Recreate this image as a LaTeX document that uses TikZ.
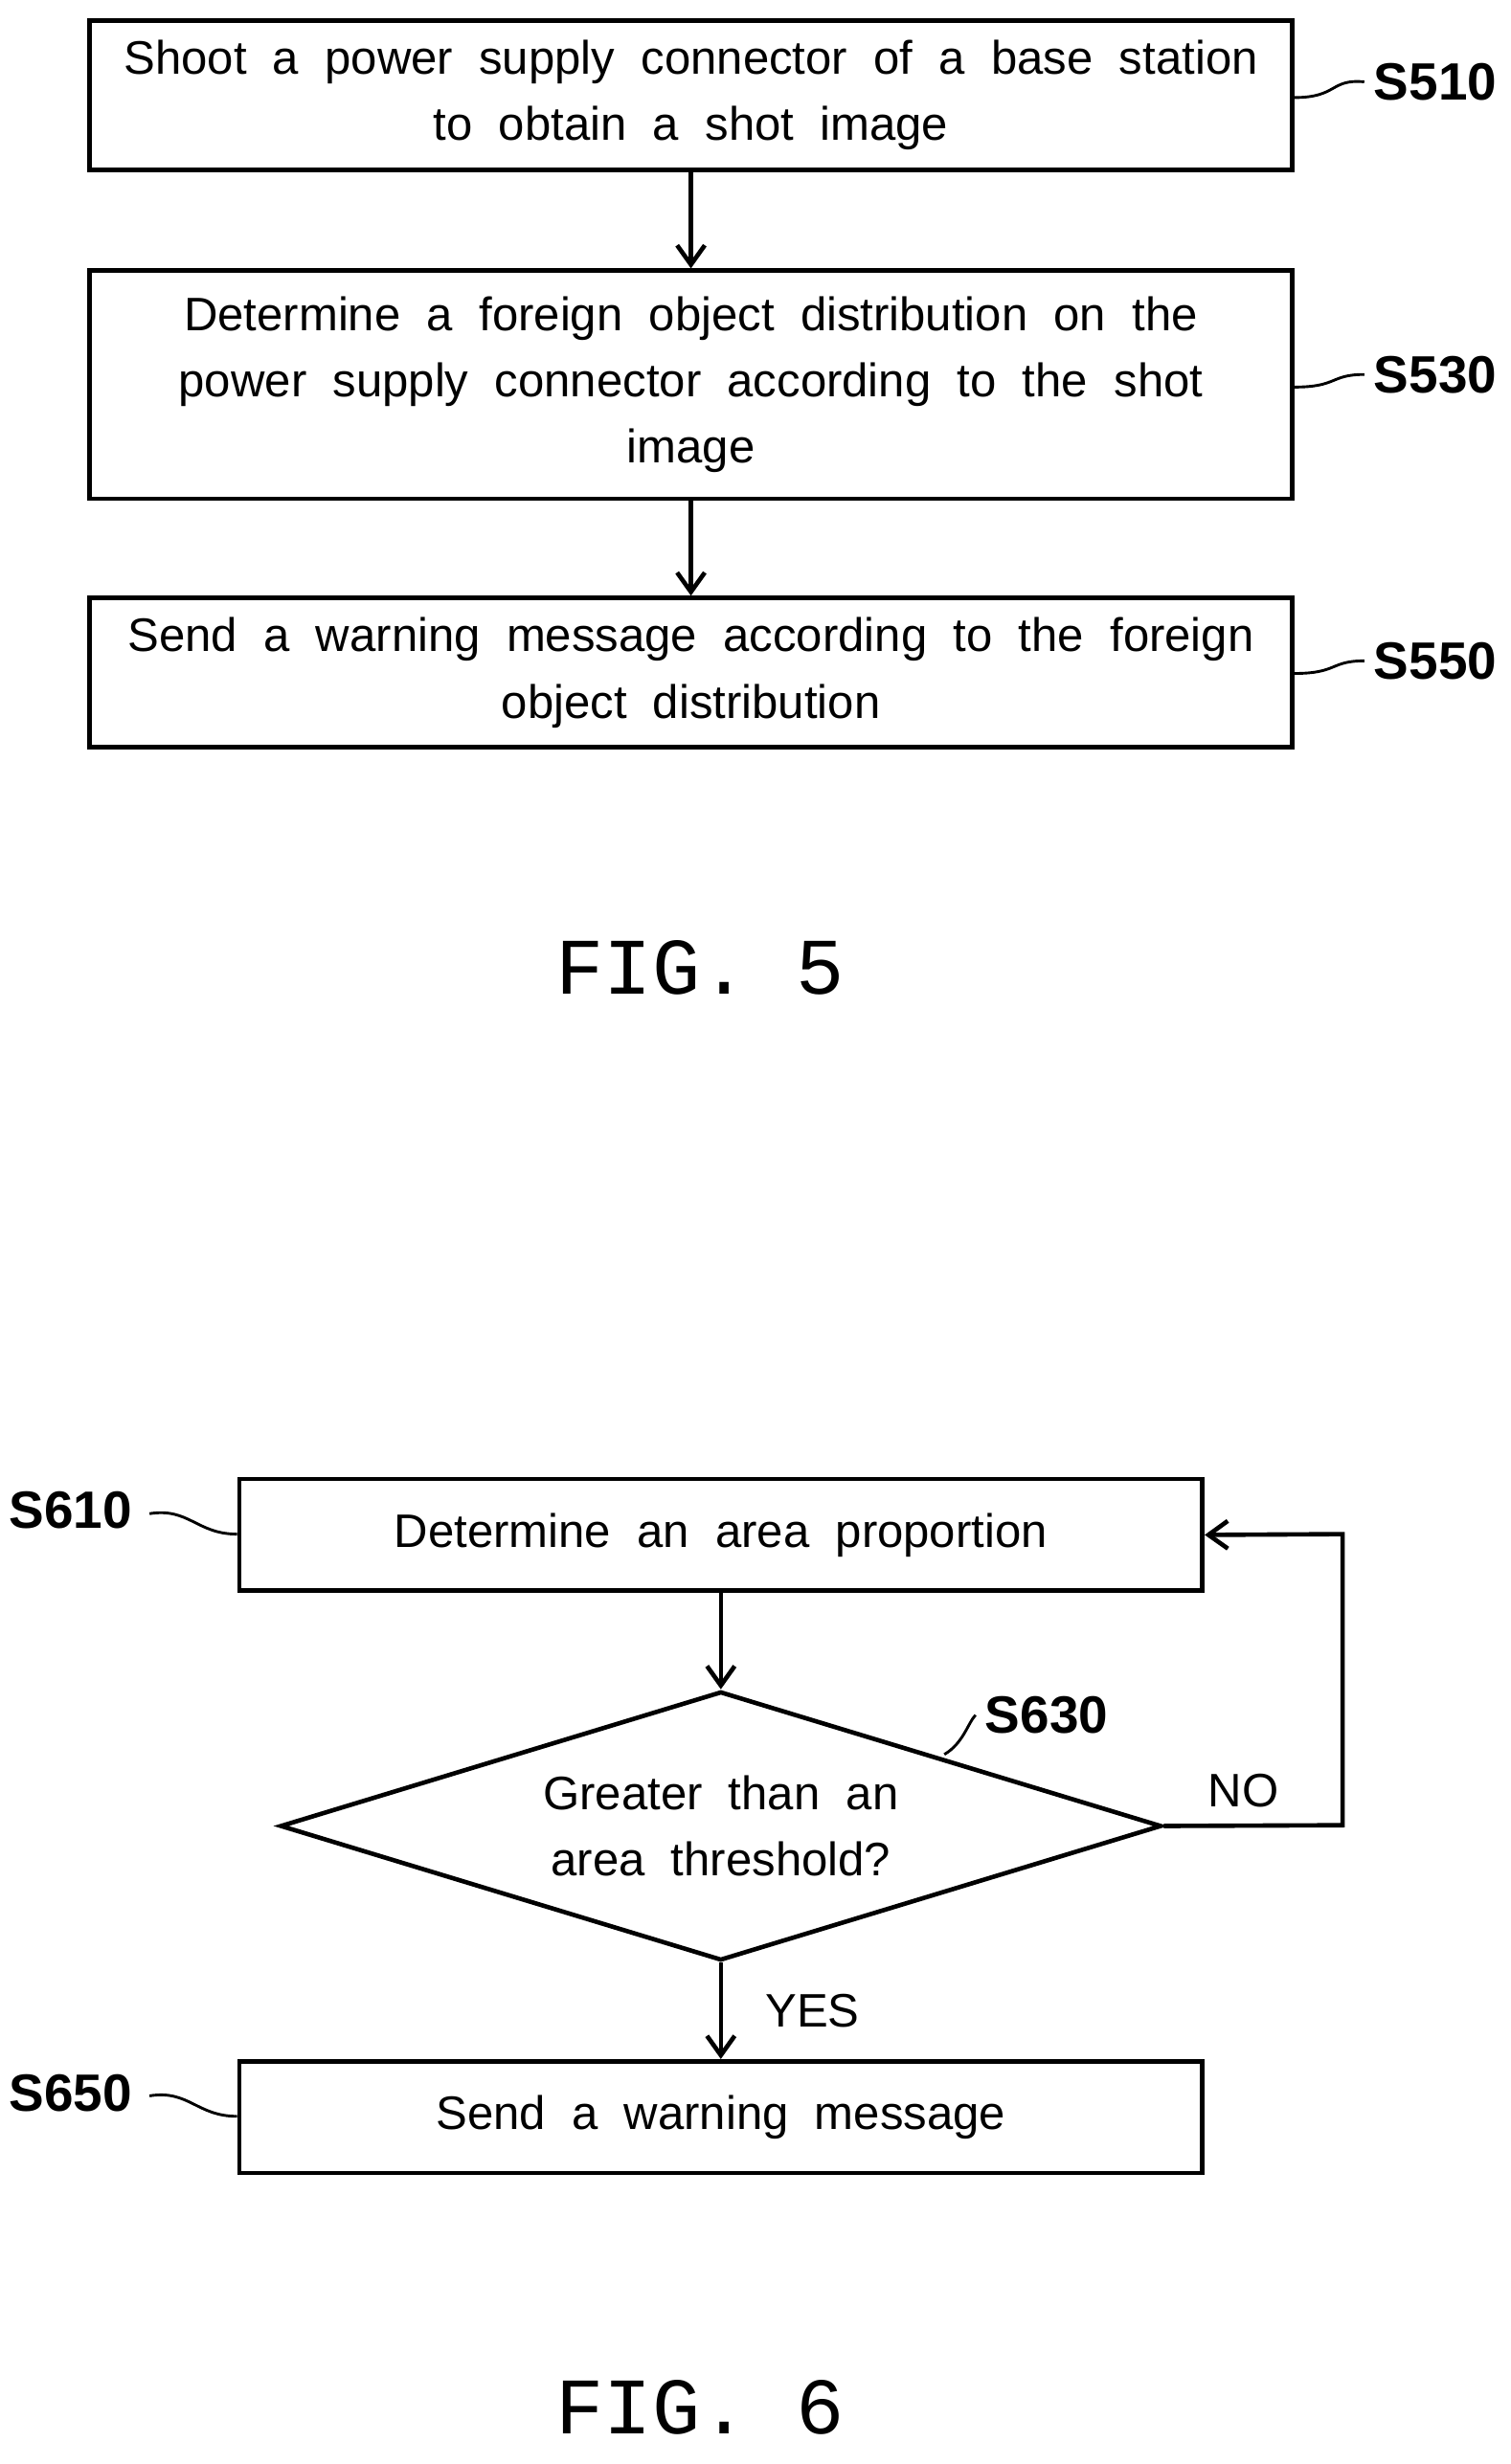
\documentclass[tikz,border=0pt]{standalone}
\usepackage{fontspec}
\setmainfont{Liberation Sans}
\newfontfamily\figfont{Liberation Mono}
\usetikzlibrary{arrows.meta,shapes.geometric}
\begin{document}
\begin{tikzpicture}[x=0.02cm,y=-0.02cm,
  box/.style={draw,line width=1.6pt,minimum height=#1*0.02cm,align=center,font=\fontsize{17}{24}\selectfont,inner sep=0pt},
  arr/.style={line width=1.6pt,-{Straight Barb[length=7pt,width=10pt]}},
  lab/.style={font=\fontsize{19}{22}\selectfont\bfseries},
  sq/.style={line width=1pt},
  fig/.style={font=\figfont\fontsize{29}{32}\selectfont}]
\useasboundingbox (0,0) rectangle (960,1566);
% FIG 5
\node[box=95,minimum width=764*0.02cm] (b1) at (439,60.5) {Shoot\ \ a\ \ power\ \ supply\ \ connector\ \ of\ \ a\ \ base\ \ station\\to\ \ obtain\ \ a\ \ shot\ \ image};
\node[box=145,minimum width=764*0.02cm] (b2) at (439,244.5) {Determine\ \ a\ \ foreign\ \ object\ \ distribution\ \ on\ \ the\\power\ \ supply\ \ connector\ \ according\ \ to\ \ the\ \ shot\\image};
\node[box=95,minimum width=764*0.02cm] (b3) at (439,427.5) {Send\ \ a\ \ warning\ \ message\ \ according\ \ to\ \ the\ \ foreign\\object\ \ distribution};
\draw[arr] (b1) -- (b2);
\draw[arr] (b2) -- (b3);
\node[lab] (l1) at (912,52) {S510};
\node[lab] (l2) at (912,238) {S530};
\node[lab] (l3) at (912,420) {S550};
\draw[sq] (b1.east|-0,62) .. controls (850,62) and (845,50) .. (l1.west);
\draw[sq] (b2.east|-0,246) .. controls (850,246) and (845,238) .. (l2.west);
\draw[sq] (b3.east|-0,428) .. controls (850,428) and (845,420) .. (l3.west);
\node[fig] (f5) at (445,615) {FIG. 5};
% FIG 6
\node[box=71,minimum width=612*0.02cm] (c1) at (458,975.5) {Determine\ \ an\ \ area\ \ proportion};
\node[draw,line width=1.6pt,diamond,minimum width=560*0.02cm,minimum height=171*0.02cm,inner sep=0pt,aspect=3.27,align=center,font=\fontsize{17}{24}\selectfont] (d) at (458,1160.5) {Greater\ \ than\ \ an\\area\ \ threshold?};
\node[box=71,minimum width=612*0.02cm] (c2) at (458,1345.5) {Send\ \ a\ \ warning\ \ message};
\draw[arr] (c1) -- (d);
\draw[arr] (d) -- node[right,xshift=12pt,font=\fontsize{17}{21}\selectfont]{YES} (c2);
\coordinate (n1) at (853,1160);
\coordinate (n2) at (853,975);
\draw[arr] (d.east) -- (n1) -- (n2) -- (c1.east);
\node[font=\fontsize{17}{21}\selectfont] (no) at (790,1138) {NO};
\node[lab] (m1) at (45,960) {S610};
\node[lab] (m2) at (665,1090) {S630};
\node[lab] (m3) at (45,1330) {S650};
\draw[sq] (95,962) .. controls (120,958) and (125,975) .. (c1.west|-0,975);
\draw[sq] (95,1332) .. controls (120,1328) and (125,1345) .. (c2.west|-0,1345);
\draw[sq] (600,1115) .. controls (612,1108) and (615,1095) .. (m2.west);
\node[fig] (f6) at (445,1530) {FIG. 6};
\end{tikzpicture}
\end{document}
